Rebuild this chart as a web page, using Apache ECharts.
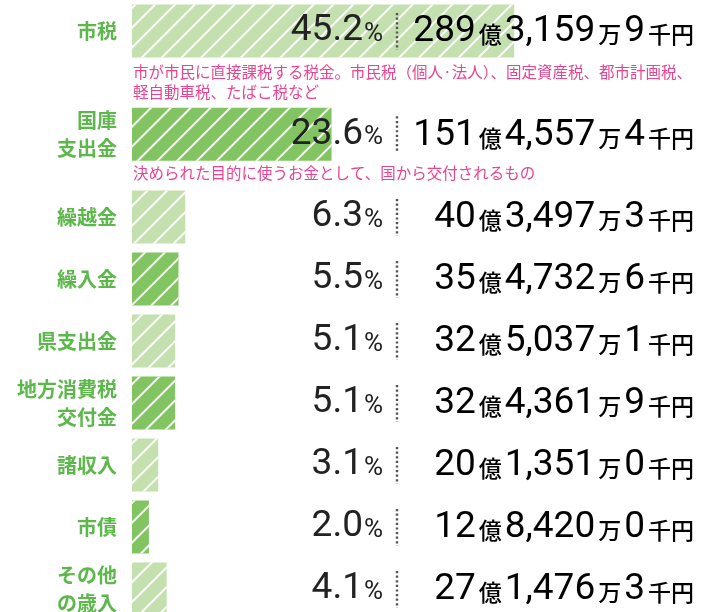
<!DOCTYPE html>
<html>
<head>
<meta charset="utf-8">
<script src="https://cdn.jsdelivr.net/npm/echarts@6/dist/echarts.min.js"></script>
<style>
html,body{margin:0;padding:0;background:#fff;}
#main{width:707px;height:612px;}
</style>
</head>
<body>
<div id="main"></div>
<script>
// 歳入の内訳
var categories = ['市税', '国庫\n支出金', '繰越金', '繰入金', '県支出金', '地方消費税\n交付金', '諸収入', '市債', 'その他\nの歳入'];
var percents = [45.2, 23.6, 6.3, 5.5, 5.1, 5.1, 3.1, 2.0, 4.1];
var oku = [289, 151, 40, 35, 32, 32, 20, 12, 27];
var man = [3159, 4557, 3497, 4732, 5037, 4361, 1351, 8420, 1476];
var sen = [9, 4, 3, 6, 1, 9, 0, 0, 3];
var notes = [
	'市が市民に直接課税する税金。市民税（個人·法人）、固定資産税、都市計画税、\n軽自動車税、たばこ税など',
	'決められた目的に使うお金として、国から交付されるもの'
];

// 行の配置（説明文のぶん間をあける）
var slots = [1, 6, 10, 13, 16, 19, 22, 25, 28];
var slotCount = 30;
var lightGreen = '#c3e0ae', darkGreen = '#82c462';

var chart = echarts.init(document.getElementById('main'), null, {renderer: 'canvas'});

var yCats = [], barData = [];
for (var k = 0; k < slotCount; k++) { yCats.push(''); barData.push('-'); }
slots.forEach(function (s, i) {
	yCats[s] = categories[i];
	barData[s] = {
		value: percents[i],
		itemStyle: {
			color: i % 2 == 0 ? lightGreen : darkGreen,
			decal: {
				symbol: 'rect',
				color: 'rgba(255,255,255,0.95)',
				dashArrayX: [1, 0],
				dashArrayY: [1.5, 11.5],
				rotation: -Math.PI / 4
			}
		}
	};
});

function comma(n) {
	return String(n).replace(/\B(?=(\d{3})+(?!\d))/g, ',');
}

var numFont = 'Roboto, "Noto Sans", sans-serif';
var jpFont = '"Noto Sans CJK JP", sans-serif';

chart.setOption({
	animation: false,
	grid: {left: 132, right: 0, top: 0, height: 620, outerBoundsMode: 'none', containLabel: false},
	xAxis: {type: 'value', min: 0, max: 68, show: false},
	yAxis: {
		type: 'category',
		inverse: true,
		data: yCats,
		axisLine: {show: false},
		axisTick: {show: false},
		axisLabel: {
			margin: 15,
			color: '#5cb84a',
			fontSize: 20,
			fontWeight: 'bold',
			lineHeight: 28,
			fontFamily: jpFont,
			interval: 0
		}
	},
	graphic: notes.map(function (t, i) {
		return {
			type: 'text',
			left: 133,
			top: i == 0 ? 62 : 163,
			style: {text: t, fill: '#e8448f', fontSize: 15.5, lineHeight: 20, fontFamily: jpFont}
		};
	}),
	series: [{
		type: 'bar',
		data: barData,
		barWidth: 53,
		clip: false,
		z: 2,
		label: {
			show: true,
			position: [251, '50%'],
			align: 'right',
			verticalAlign: 'middle',
			formatter: function (p) {
				return '{p|' + p.value.toFixed(1) + '}{pc|%}';
			},
			rich: {
				p: {fontSize: 37, color: '#222', fontFamily: numFont},
				pc: {fontSize: 26, color: '#222', fontFamily: numFont, padding: [6, 0, 0, 1]}
			}
		}
	}, {
		type: 'custom',
		z: 10,
		data: slots.map(function (s, i) { return [percents[i], s]; }),
		encode: {x: 0, y: 1},
		renderItem: function (params, api) {
			var i = params.dataIndex;
			var y = api.coord([0, api.value(1)])[1];
			var txt = '{n|' + oku[i] + '}{u|億}{n|' + comma(man[i]) + '}{u|万}{n|' + sen[i] + '}{u|千円}';
			return {
				type: 'group',
				children: [{
					type: 'line',
					shape: {x1: 397, y1: y - 18, x2: 397, y2: y + 19},
					style: {stroke: '#555', lineWidth: 2.4, lineDash: [2.2, 2.4]}
				}, {
					type: 'text',
					style: {
						x: 697, y: y + 1,
						align: 'right', verticalAlign: 'middle',
						text: txt,
						rich: {
							n: {fontSize: 37, color: '#222', fontFamily: numFont},
							u: {fontSize: 23, color: '#222', fontFamily: jpFont, fontWeight: 500, padding: [5, 3, 0, 3]}
						}
					}
				}]
			};
		}
	}]
});
</script>
</body>
</html>
